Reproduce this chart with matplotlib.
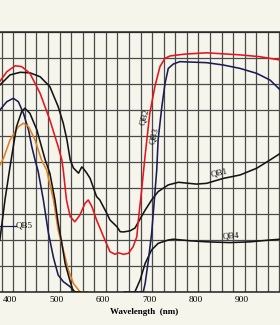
import numpy as np
import matplotlib
matplotlib.use("Agg")
import matplotlib.pyplot as plt
import matplotlib.transforms as mtransforms

# transmission curves (wavelength nm, transmittance %)
qb2_wl = [371, 386, 404, 418, 436, 458, 479, 497, 505, 508, 515, 523, 533, 544, 555, 562,
          570, 580, 595, 609, 620, 627, 638, 649, 659, 667, 670, 677, 685, 695, 706, 717,
          728, 739, 771, 818, 890, 933, 977]
qb2_t = [81, 84.7, 87, 86.7, 84.1, 76.4, 66.2, 55.9, 50.8, 46.9, 35.4, 29, 27, 29.6, 34.1, 35.4,
         32.8, 27.7, 21.3, 15.5, 14.5, 15.1, 14.5, 14.9, 17.4, 21.3, 27.2, 38.5, 52.7, 68.7, 79, 86.7,
         89.9, 90.8, 91.5, 92, 91.2, 90.5, 89.2]

qb1_wl = [371, 393, 415, 436, 458, 479, 497, 508, 516, 523, 530, 541, 548, 551, 559, 566, 580,
          587, 602, 609, 624, 631, 638, 652, 663, 674, 685, 699, 713, 735, 757, 796, 818, 854,
          890, 926, 955, 977]
qb1_t = [79.6, 83.5, 84.5, 84.3, 82.8, 79.0, 71.3, 64.9, 58.5, 50.8, 47.7, 45.7, 48.1, 47.6, 45.7,
         43.7, 36.7, 35.4, 30.3, 27.7, 25.1, 23.2, 23.1, 23.5, 24.6, 28.1, 31.5, 35.4, 38.6, 41.2,
         42.2, 41.5, 41.8, 43.7, 45.0, 47.6, 50.8, 53.3]

qb3_wl = [660, 674, 681, 685, 692, 699, 704, 710, 713, 721, 728, 735, 746, 760, 818, 854, 890,
          926, 955, 977]
qb3_t = [0, 0, 0.1, 3.3, 12.3, 22.6, 33.5, 46.9, 58.5, 71.2, 80.3, 86.0, 87.7, 88.6, 88.2, 87.3,
         86.0, 84.1, 81.5, 77.7]

qb4_wl = [640, 659, 663, 674, 685, 699, 713, 735, 746, 782, 818, 868, 912, 955, 977]
qb4_t = [0, 0, 0.1, 4.6, 11.0, 16.2, 18.7, 20.0, 20.3, 19.7, 19.3, 19.0, 19.3, 20.0, 20.3]

qb5_wl = [371, 386, 400, 411, 422, 433, 440, 447, 454, 465, 476, 487, 497, 508, 523, 533, 544, 560]
qb5_t = [70.0, 73.2, 74.5, 73.2, 68.7, 62.3, 55.9, 50.8, 46.2, 35.4, 22.6, 13.1, 6.5, 4.0, 2.0,
         0.1, 0, 0]

peak_wl = [371, 382, 393, 407, 418, 425, 436, 451, 461, 469, 479, 490, 497, 505, 512, 523, 530, 545]
peak_t = [20, 35.4, 48.2, 63.6, 69.3, 70.7, 68.7, 62.3, 55.9, 50.8, 45.7, 35.4, 26.4, 18.7, 11.0,
          4.0, 0.1, 0]

orange_wl = [371, 379, 393, 411, 422, 433, 447, 454, 461, 472, 487, 497, 508, 519, 530, 544, 560]
orange_t = [48.8, 51.5, 58.5, 63.6, 64.9, 63.6, 58.5, 54.6, 50.8, 46.9, 35.4, 23.8, 16.2, 8.5,
            3.3, 0.1, 0]

xticks = [400, 500, 600, 700, 800, 900]

bg = '#f6f5ec'
grid_c = '#4a4a4a'
red = '#e3161c'
navy = '#1c1c55'
black = '#141414'
orange = '#e2801e'

fig = plt.figure(figsize=(2.8, 3.25), dpi=100, facecolor=bg)
ax = fig.add_axes([0, 33 / 325, 1, 260 / 325])
ax.set_facecolor(bg)

ax.set_xlim(371.3, 976.4)
ax.set_ylim(0, 100)
ax.set_xticks(xticks)
ax.set_xticks(np.arange(375, 980, 25), minor=True)
ax.set_yticks(np.arange(0, 101, 10))
ax.set_yticklabels([])
ax.tick_params(which='both', length=0, pad=3)
ax.tick_params(axis='x', labelsize=6.8)
for lab in ax.get_xticklabels():
    lab.set_fontfamily('Liberation Serif')
    lab.set_transform(lab.get_transform() + mtransforms.ScaledTranslation(-3 / 100, 0, fig.dpi_scale_trans))
ax.grid(which='both', color=grid_c, lw=0.9)
ax.set_axisbelow(True)
for s in ['left', 'right']:
    ax.spines[s].set_visible(False)
for s in ['top', 'bottom']:
    ax.spines[s].set_color('#222222')
    ax.spines[s].set_linewidth(1.1)

lw = 1.15
ax.plot(qb5_wl, qb5_t, color=navy, lw=lw)
ax.plot(orange_wl, orange_t, color=orange, lw=lw)
ax.plot(peak_wl, peak_t, color=black, lw=lw)
ax.plot(qb1_wl, qb1_t, color=black, lw=lw)
ax.plot(qb4_wl, qb4_t, color=black, lw=lw)
ax.plot(qb3_wl, qb3_t, color=navy, lw=lw)
ax.plot(qb2_wl, qb2_t, color=red, lw=lw)

lab_kw = dict(fontsize=6.5, family='Liberation Serif', color='#111111', ha='center', va='center')
ax.text(684.6, 67.5, 'QB2', rotation=74, **lab_kw)
ax.text(704.6, 60.0, 'QB3', rotation=76, **lab_kw)
ax.text(844.6, 46.0, 'QB1', rotation=12, **lab_kw)
ax.text(869.7, 21.6, 'QB4', rotation=4, **lab_kw)
ax.plot([371.3, 405], [25.5, 25.5], color=navy, lw=0.9)
ax.text(406, 25.6, 'QB5', fontsize=6.5, family='Liberation Serif', color='#111111',
        ha='left', va='center')

fig.text(144 / 280, 1 - 312 / 325, 'Wavelength  (nm)', fontsize=6.5, family='Liberation Serif',
         weight='bold', ha='center', va='center')

fig.savefig('out.png', dpi=100, facecolor=bg)
